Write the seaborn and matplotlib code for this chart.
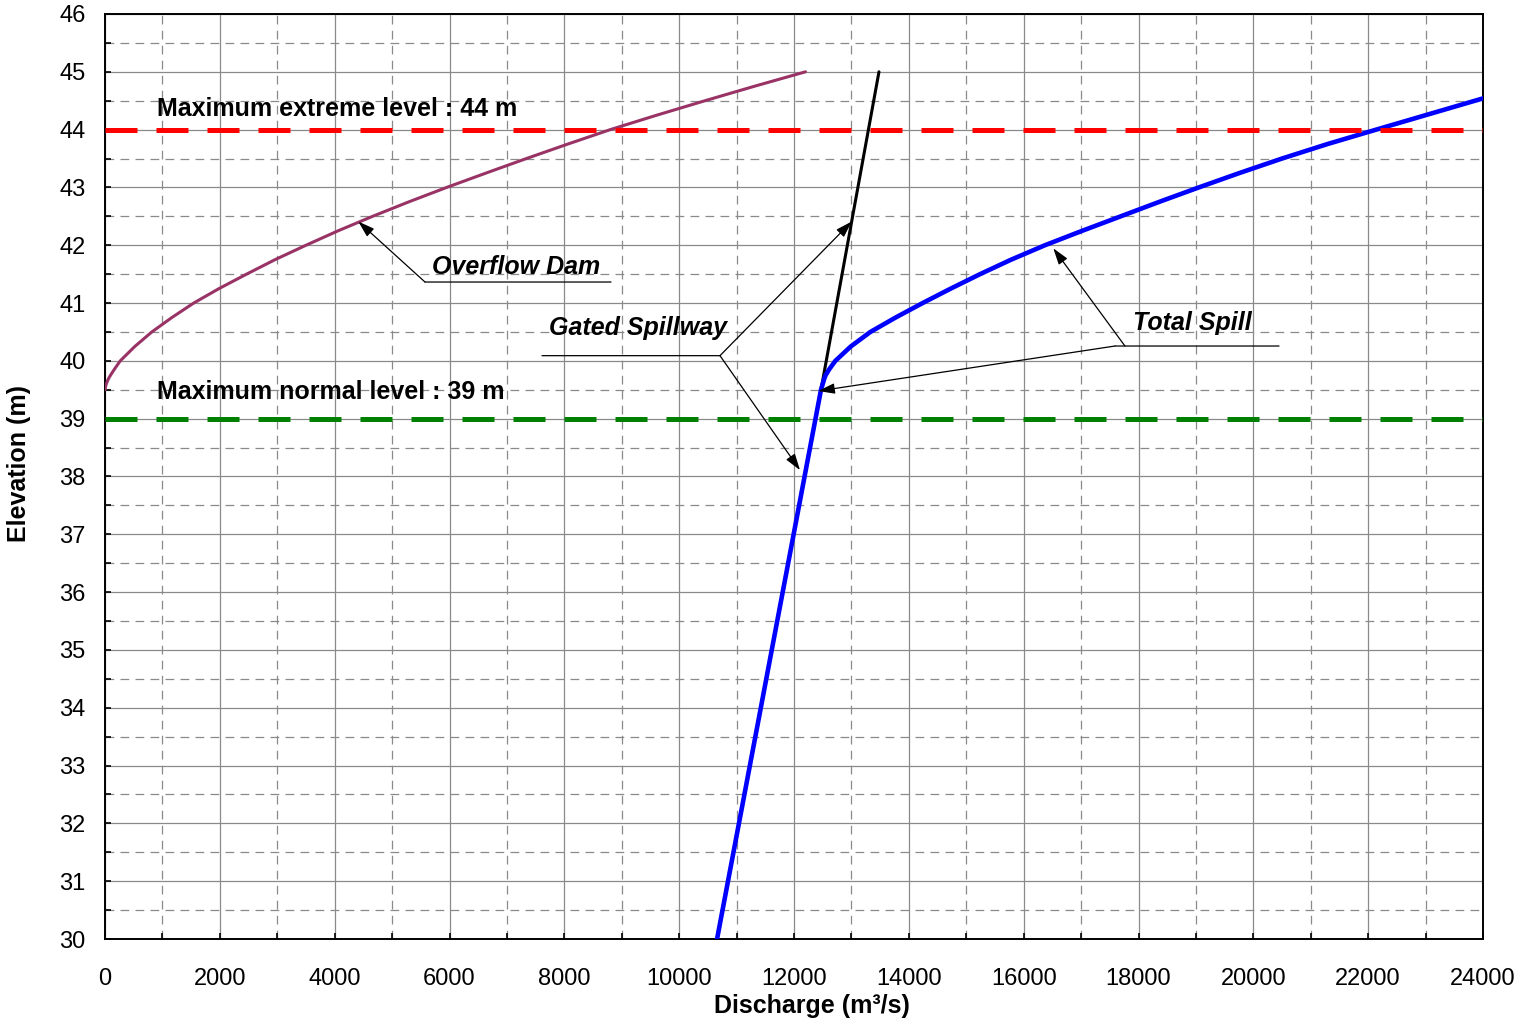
import numpy as np
import pandas as pd
import matplotlib
matplotlib.use("Agg")
import matplotlib.pyplot as plt
from matplotlib.ticker import MultipleLocator
import seaborn as sns

# ---------------- data ----------------
# Overflow dam rating curve
overflow_elev = [39.5, 39.55, 39.6, 39.65, 39.7, 39.75, 39.85, 40.0, 40.25, 40.5, 40.75,
                 41.0, 41.25, 41.5, 41.75, 42.0, 42.25, 42.5, 42.75, 43.0, 43.25, 43.5,
                 43.75, 44.0, 44.25, 44.5, 44.75, 45.0]
overflow_q = [0, 8, 22, 42, 65, 95, 160, 265, 520, 815, 1165,
              1545, 1985, 2465, 2960, 3500, 4060, 4660, 5290, 5950, 6640, 7340,
              8060, 8800, 9610, 10450, 11310, 12200]

# Gated spillway rating curve
gated_elev = [30.0, 39.5, 45.0]
gated_q = [10660, 12470, 13480]

# Total spill rating curve
total_elev = [30.0, 39.5, 39.55, 39.6, 39.65, 39.7, 39.75, 39.85, 40.0, 40.25, 40.5, 40.75,
              41.0, 41.25, 41.5, 41.75, 42.0, 42.25, 42.5, 42.75, 43.0, 43.25, 43.5,
              43.75, 44.0, 44.25, 44.5, 44.75, 45.0]
total_q = [10660, 12470, 12485, 12500, 12515, 12530, 12550, 12610, 12720, 12990, 13330, 13770,
           14240, 14730, 15240, 15780, 16370, 17020, 17690, 18360, 19050, 19760, 20500,
           21290, 22140, 23000, 23860, 24730, 25600]

# Reference levels
extreme_level = 44.0
normal_level = 39.0

x_ticks = list(range(0, 24001, 2000))
y_ticks = list(range(30, 47))

# ---------------- styling ----------------
sns.set_theme(style="white")
plt.rcParams["font.family"] = ["Liberation Sans", "DejaVu Sans"]

fig = plt.figure(figsize=(15.22, 10.21), dpi=100)
ax = fig.add_axes([105 / 1522, (1021 - 939) / 1021, 1378 / 1522, 925 / 1021])

df_over = pd.DataFrame({"Q": overflow_q, "H": overflow_elev})
df_gate = pd.DataFrame({"Q": gated_q, "H": gated_elev})
df_tot = pd.DataFrame({"Q": total_q, "H": total_elev})

sns.lineplot(data=df_over, x="Q", y="H", ax=ax, color="#993366", lw=2.2,
             estimator=None, sort=False, zorder=3)
sns.lineplot(data=df_gate, x="Q", y="H", ax=ax, color="black", lw=2.2,
             estimator=None, sort=False, zorder=3)
sns.lineplot(data=df_tot, x="Q", y="H", ax=ax, color="#0000FF", lw=3.3,
             estimator=None, sort=False, zorder=4)
for ln in ax.get_lines():
    ln.set_solid_joinstyle("round")

ax.axhline(extreme_level, color="#FF0000", lw=3.6, linestyle=(0, (6.4, 3.8)),
           zorder=5, dash_capstyle="butt")
ax.axhline(normal_level, color="#008000", lw=3.6, linestyle=(0, (6.4, 3.8)),
           zorder=5, dash_capstyle="butt")

ax.set_xlim(0, 24000)
ax.set_ylim(30, 46)
ax.set_xticks(x_ticks)
ax.set_xticklabels([str(v) for v in x_ticks])
ax.set_yticks(y_ticks)
ax.set_yticklabels([str(v) for v in y_ticks])
ax.xaxis.set_minor_locator(MultipleLocator(1000))
ax.yaxis.set_minor_locator(MultipleLocator(0.5))

ax.grid(which="major", color="#8a8a8a", lw=0.9, linestyle="-", zorder=1)
ax.grid(which="minor", color="#8a8a8a", lw=0.9, linestyle=(0, (7, 5)), zorder=1)
ax.set_axisbelow(True)

ax.tick_params(axis="both", which="both", direction="in", length=4.5, width=1.2,
               color="black", bottom=True, left=True, top=False, right=False)
ax.tick_params(axis="x", which="major", labelsize=17, pad=21, labelcolor="black")
ax.tick_params(axis="y", which="major", labelsize=17, pad=14, labelcolor="black")

for sp in ax.spines.values():
    sp.set_visible(True)
    sp.set_color("black")
    sp.set_linewidth(1.4)

ax.set_xlabel("Discharge (m³/s)", fontsize=18, fontweight="bold", color="black",
              ha="center", va="center")
ax.set_ylabel("Elevation (m)", fontsize=18, fontweight="bold", color="black",
              ha="center", va="center")
ax.xaxis.set_label_coords((812 - 105) / 1378, -(1006 - 939) / 925)
ax.yaxis.set_label_coords((19 - 105) / 1378, (939 - 463) / 925)

# ---------------- annotations ----------------
txt_kw = dict(fontsize=18, fontweight="bold", color="black", va="baseline", ha="left", zorder=6)
ax.text(906, 44.24, "Maximum extreme level : 44 m", **txt_kw)
ax.text(906, 39.34, "Maximum normal level : 39 m", **txt_kw)

ital_kw = dict(txt_kw, fontstyle="italic")
ax.text(5695, 41.50, "Overflow Dam", **ital_kw)
ax.text(7733, 40.447, "Gated Spillway", **ital_kw)
ax.text(17904, 40.534, "Total Spill", **ital_kw)

line_props = dict(arrowstyle="-", color="black", lw=0.9, shrinkA=0, shrinkB=0)
arrow_props = dict(arrowstyle="-|>,head_length=0.5,head_width=0.16", mutation_scale=20,
                   color="black", lw=0.9, shrinkA=0, shrinkB=0)

# Overflow Dam leader
ax.annotate("", xy=(5573, 41.364), xytext=(8813, 41.364), arrowprops=line_props, zorder=6)
ax.annotate("", xy=(4412, 42.41), xytext=(5573, 41.364), arrowprops=arrow_props, zorder=6)

# Gated Spillway leaders
ax.annotate("", xy=(10711, 40.09), xytext=(7611, 40.09), arrowprops=line_props, zorder=6)
ax.annotate("", xy=(13005, 42.41), xytext=(10711, 40.09), arrowprops=arrow_props, zorder=6)
ax.annotate("", xy=(12104, 38.11), xytext=(10711, 40.09), arrowprops=arrow_props, zorder=6)

# Total Spill leaders
ax.annotate("", xy=(20447, 40.257), xytext=(17590, 40.257), arrowprops=line_props, zorder=6)
ax.annotate("", xy=(16516, 41.947), xytext=(17764, 40.257), arrowprops=arrow_props, zorder=6)
ax.annotate("", xy=(12423, 39.479), xytext=(17590, 40.257), arrowprops=arrow_props, zorder=6)

fig.savefig("out.png", dpi=100, facecolor="white")
